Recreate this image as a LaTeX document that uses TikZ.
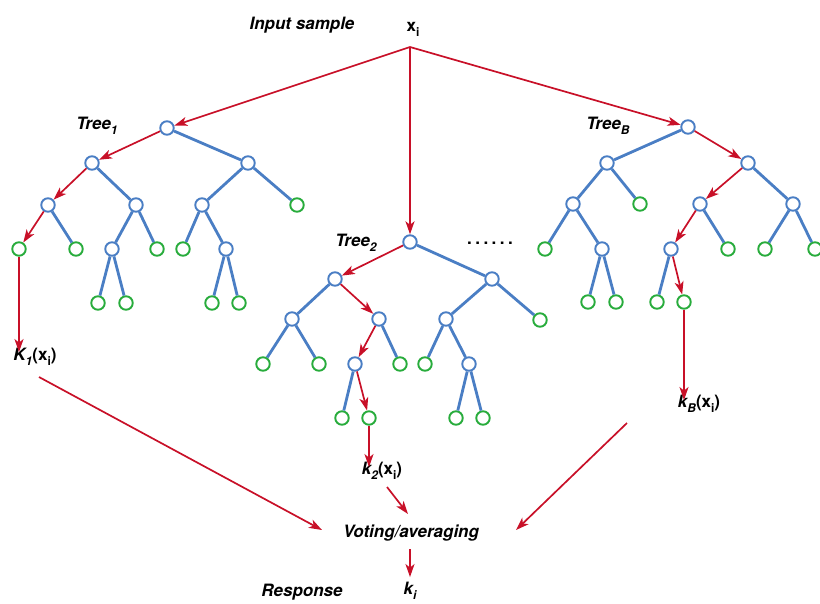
\documentclass[tikz,border=0pt]{standalone}
\usepackage{fontspec}
\setmainfont{TeX Gyre Heros}
\usetikzlibrary{arrows.meta}
\definecolor{tblue}{RGB}{74,126,196}
\definecolor{tgreen}{RGB}{40,172,60}
\definecolor{tred}{RGB}{200,16,40}
\newcommand\sub[1]{\raisebox{-0.3em}{\fontsize{12}{12}\selectfont #1}}
\tikzset{
 inner/.style={circle,draw=tblue,line width=1.9pt,fill=white,minimum size=13.5pt,inner sep=0pt},
 leaf/.style={circle,draw=tgreen,line width=1.9pt,fill=white,minimum size=13.5pt,inner sep=0pt},
 edge/.style={draw=tblue,line width=2.8pt},
 rpath/.style={draw=tred,line width=1.7pt,-{Stealth[length=13pt,width=9pt,inset=3.5pt]}},
 lab/.style={font=\fontsize{17}{20}\selectfont\bfseries\itshape,inner sep=0pt},
 labu/.style={font=\fontsize{17}{20}\selectfont\bfseries,inner sep=0pt}
}
\begin{document}
\begin{tikzpicture}[x=1pt,y=-1pt]
\useasboundingbox (0,0) rectangle (820,603);
% labels
\node[lab] (inlab) at (302,25) {Input sample};
\node[labu] (xi) at (413,29) {x\sub{i}};
\coordinate (src) at (410,47);
\node[lab] (t1lab) at (97,126) {Tree\sub{1}};
\node[lab] (t2lab) at (356,243) {Tree\sub{2}};
\node[lab] (tBlab) at (608,126) {Tree\sub{B}};
\node[labu] (dots) at (490,243) {.\kern3.5pt.\kern3.5pt.\kern3.5pt.\kern3.5pt.\kern3.5pt.};
\node[lab] (K1) at (35,357) {K\sub{1}{\upshape(x\sub{i})}};
\node[lab] (k2) at (382,471) {k\sub{2}{\upshape(x\sub{i})}};
\node[lab] (kB) at (699,404) {k\sub{B}{\upshape(x\sub{i})}};
\node[lab] (vote) at (411,533) {Voting/averaging};
\node[lab] (resp) at (302,592) {Response};
\node[lab] (ki) at (410,591) {k\sub{i}};
% tree 1
\node[inner] (a) at (167,128) {};
\node[inner] (aL) at (92,163) {};
\node[inner] (aR) at (248,163) {};
\node[inner] (aLL) at (48,205) {};
\node[inner] (aLR) at (136,205) {};
\node[inner] (aRL) at (202,205) {};
\node[leaf] (aRR) at (297,205) {};
\node[leaf] (aLLL) at (19,249) {};
\node[leaf] (aLLR) at (76,249) {};
\node[inner] (aLRL) at (112,249) {};
\node[leaf] (aLRR) at (157,249) {};
\node[leaf] (aRLL) at (183,249) {};
\node[inner] (aRLR) at (226,249) {};
\node[leaf] (aLRLL) at (98,303) {};
\node[leaf] (aLRLR) at (126,303) {};
\node[leaf] (aRLRL) at (212,303) {};
\node[leaf] (aRLRR) at (239,303) {};
% tree 2
\node[inner] (b) at (410,242) {};
\node[inner] (bL) at (335,279) {};
\node[inner] (bR) at (492,279) {};
\node[inner] (bLL) at (292,319) {};
\node[inner] (bLR) at (379,319) {};
\node[inner] (bRL) at (446,319) {};
\node[leaf] (bRR) at (540,320) {};
\node[leaf] (bLLL) at (263,364) {};
\node[leaf] (bLLR) at (319,364) {};
\node[inner] (bLRL) at (355,364) {};
\node[leaf] (bLRR) at (400,364) {};
\node[leaf] (bRLL) at (425,364) {};
\node[inner] (bRLR) at (469,364) {};
\node[leaf] (bLRLL) at (342,418) {};
\node[leaf] (bLRLR) at (369,418) {};
\node[leaf] (bRLRL) at (456,418) {};
\node[leaf] (bRLRR) at (483,418) {};
% tree B
\node[inner] (c) at (688,127) {};
\node[inner] (cL) at (607,163) {};
\node[inner] (cR) at (748,163) {};
\node[inner] (cLL) at (573,204) {};
\node[leaf] (cLR) at (640,204) {};
\node[inner] (cRL) at (700,204) {};
\node[inner] (cRR) at (793,204) {};
\node[leaf] (cLLL) at (545,249) {};
\node[inner] (cLLR) at (602,249) {};
\node[inner] (cRLL) at (671,249) {};
\node[leaf] (cRLR) at (728,249) {};
\node[leaf] (cRRL) at (765,249) {};
\node[leaf] (cRRR) at (815,249) {};
\node[leaf] (cLLRL) at (588,302) {};
\node[leaf] (cLLRR) at (616,302) {};
\node[leaf] (cRLLL) at (657,302) {};
\node[leaf] (cRLLR) at (684,302) {};
% blue edges
\foreach \u/\v in {a/aR,aL/aLR,aR/aRL,aR/aRR,aLL/aLLR,aLR/aLRL,aLR/aLRR,aRL/aRLL,aRL/aRLR,aLRL/aLRLL,aLRL/aLRLR,aRLR/aRLRL,aRLR/aRLRR,
  b/bR,bL/bLL,bR/bRL,bR/bRR,bLL/bLLL,bLL/bLLR,bLR/bLRR,bRL/bRLL,bRL/bRLR,bLRL/bLRLL,bRLR/bRLRL,bRLR/bRLRR,
  c/cL,cL/cLL,cL/cLR,cR/cRR,cLL/cLLL,cLL/cLLR,cRL/cRLR,cRR/cRRL,cRR/cRRR,cLLR/cLLRL,cLLR/cLLRR,cRLL/cRLLL}
  \draw[edge] (\u) -- (\v);
% red decision paths
\foreach \u/\v in {src/a,src/b,src/c,a/aL,aL/aLL,aLL/aLLL,b/bL,bL/bLR,bLR/bLRL,bLRL/bLRLR,c/cR,cR/cRL,cRL/cRLL,cRLL/cRLLR}
  \draw[rpath] (\u) -- (\v);
\draw[rpath] (aLLL) -- ([yshift=-4pt]aLLL |- K1.north);
\draw[rpath] (bLRLR) -- ([yshift=-5pt]bLRLR |- k2.north);
\draw[rpath] (cRLLR) -- ([yshift=-5pt]cRLLR |- kB.north);
% to voting
\coordinate (k1o) at (39,377);
\coordinate (v1) at (322,530);
\coordinate (k2o) at (387,487);
\coordinate (v2) at (408,514);
\coordinate (kBo) at (627,423);
\coordinate (vB) at (516,530);
\draw[rpath] (k1o) -- (v1);
\draw[rpath] (k2o) -- (v2);
\draw[rpath] (kBo) -- (vB);
\draw[rpath,shorten <=8pt,shorten >=5pt] (vote.south -| ki) -- (ki.north);
\end{tikzpicture}
\end{document}
